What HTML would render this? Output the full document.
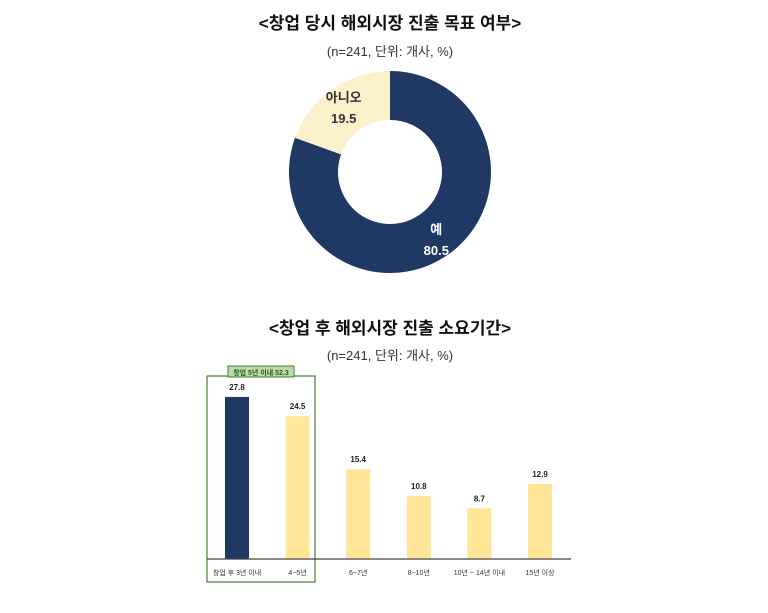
<!DOCTYPE html>
<html><head><meta charset="utf-8"><style>
body{margin:0;background:#fff;width:768px;height:608px;overflow:hidden;font-family:"Liberation Sans","Noto Sans CJK KR",sans-serif}
</style></head><body>
<svg width="768" height="608" font-family="Liberation Sans, Noto Sans CJK KR, sans-serif">
<text x="390" y="29" text-anchor="middle" font-size="17" font-weight="bold" fill="#111">&lt;창업 당시 해외시장 진출 목표 여부&gt;</text>
<text x="390" y="56" text-anchor="middle" font-size="13" fill="#333">(n=241, 단위: 개사, %)</text>
<g id="donut"></g>
<text x="390" y="334" text-anchor="middle" font-size="17" font-weight="bold" fill="#111">&lt;창업 후 해외시장 진출 소요기간&gt;</text>
<text x="390" y="360" text-anchor="middle" font-size="13" fill="#333">(n=241, 단위: 개사, %)</text>
<rect x="207" y="376" width="108" height="206" fill="none" stroke="#4a7a3a" stroke-width="1.2"/>
<rect x="228" y="366" width="66" height="11" fill="#b9dca6" stroke="#4a7a3a" stroke-width="1"/>
<text x="261" y="375" text-anchor="middle" font-size="7" font-weight="bold" fill="#2f5a22">창업 5년 이내 52.3</text>
<g id="bars"></g>
<line x1="207" y1="559" x2="571" y2="559" stroke="#444" stroke-width="1.2"/>
</svg>
<script>
const pieLabels=["예","아니오"];
const pieValues=[80.5,19.5];
const pieColors=["#1f3864","#fdf0cc"];
const categories=["창업 후 3년 이내","4~5년","6~7년","8~10년","10년 ~ 14년 이내","15년 이상"];
const barValues=[27.8,24.5,15.4,10.8,8.7,12.9];
const barColors=["#1f3864","#ffe699","#ffe699","#ffe699","#ffe699","#ffe699"];
const NS="http://www.w3.org/2000/svg";
function mk(t,a,p){const e=document.createElementNS(NS,t);for(const k in a)e.setAttribute(k,a[k]);p.appendChild(e);return e;}
// donut
const dg=document.getElementById('donut');
const cx=390,cy=172,R=101,r=52;
let total=pieValues.reduce((a,b)=>a+b,0),ang=0;
function pt(a,rad){return [cx+rad*Math.sin(a),cy-rad*Math.cos(a)];}
pieValues.forEach((v,i)=>{
 const a0=ang,a1=ang+v/total*2*Math.PI;ang=a1;
 const lg=(a1-a0)>Math.PI?1:0;
 const p0=pt(a0,R),p1=pt(a1,R),q1=pt(a1,r),q0=pt(a0,r);
 const p=mk('path',{d:`M${p0[0]},${p0[1]}A${R},${R} 0 ${lg} 1 ${p1[0]},${p1[1]}L${q1[0]},${q1[1]}A${r},${r} 0 ${lg} 0 ${q0[0]},${q0[1]}Z`,fill:pieColors[i]},dg);
 
 
 const m=(a0+a1)/2,lp=pt(m,(R+r)/2+ (i==0?4:4));
 const col=i==0?"#fff":"#333";
 const t1=mk('text',{x:lp[0],y:lp[1]-4,'text-anchor':'middle','font-size':13,'font-weight':'bold',fill:col},dg);t1.textContent=pieLabels[i];
 
 
 const t2=mk('text',{x:lp[0],y:lp[1]+17,'text-anchor':'middle','font-size':13,'font-weight':'bold',fill:col},dg);t2.textContent=pieValues[i].toFixed(1);
 
 
});
// bars
const bg=document.getElementById('bars');
const base=559,scale=5.83,x0=237,step=60.6,bw=24;
const xOf=i=>x0+i*step, yOf=v=>base-v*scale;
barValues.forEach((v,i)=>{
 const b=mk('rect',{x:xOf(i)-bw/2,y:yOf(v),width:bw,height:base-yOf(v),fill:barColors[i]},bg);
 
 
 const t=mk('text',{x:xOf(i),y:yOf(v)-7,'text-anchor':'middle','font-size':8,'font-weight':'bold',fill:'#222'},bg);t.textContent=v.toFixed(1);
 
 
 const c=mk('text',{x:xOf(i),y:575,'text-anchor':'middle','font-size':7,fill:'#333'},bg);c.textContent=categories[i];
 
 
});
</script>
</body></html>
